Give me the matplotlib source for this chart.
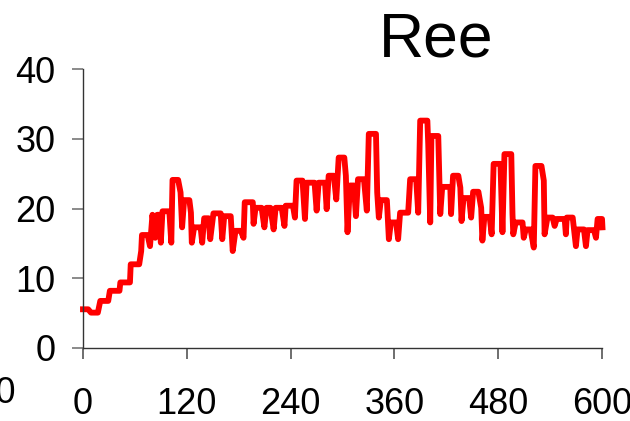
import matplotlib
matplotlib.use('Agg')
import matplotlib.pyplot as plt

plt.rcParams['font.family'] = ['Liberation Sans', 'DejaVu Sans']

# --- data ---
t = [0, 6.0, 9.3, 17.2, 20.0, 29.2, 31.1, 42.2, 43.2, 54.3,
     55.2, 65.0, 67.3, 68.2, 74.7, 77.5, 80.3, 83.5, 85.8, 88.2,
     90.0, 91.9, 99.8, 102.1, 103.5, 110.0, 112.8, 114.6, 116.9, 123.0,
     124.8, 125.8, 128.5, 136.0, 137.8, 140.1, 145.2, 147.1, 150.8, 159.2,
     161.0, 163.3, 170.8, 173.1, 176.3, 182.4, 185.6, 187.0, 196.3, 197.2,
     199.5, 206.5, 209.7, 212.1, 216.7, 220.4, 222.7, 229.7, 232.9, 234.3,
     242.7, 245.0, 246.9, 253.8, 256.6, 258.5, 267.7, 270.1, 272.4, 279.8,
     281.7, 284.0, 290.0, 292.8, 295.6, 302.1, 303.9, 305.8, 308.6, 313.2,
     315.5, 317.9, 324.8, 328.1, 330.4, 338.7, 340.1, 342.0, 344.3, 351.3,
     352.7, 353.6, 355.9, 361.9, 364.3, 366.6, 375.9, 378.2, 385.2, 387.5,
     389.8, 398.1, 399.1, 401.4, 402.8, 410.7, 413.0, 415.3, 424.6, 425.5,
     427.8, 433.9, 436.2, 437.6, 439.9, 446.4, 448.7, 451.0, 457.1, 460.3,
     461.7, 464.0, 470.1, 472.4, 474.7, 482.6, 484.9, 487.2, 495.1, 496.5,
     497.4, 500.2, 508.1, 509.5, 511.8, 517.4, 521.1, 523.0, 530.0, 532.7,
     533.6, 536.9, 542.9, 545.2, 547.6, 556.8, 558.2, 559.2, 566.1, 569.8,
     571.7, 579.1, 581.4, 583.3, 590.7, 593.0, 594.9, 600.0, 600.5]
ree = [5.55, 5.55, 5.07, 5.07, 6.75, 6.75, 8.2, 8.2, 9.4, 9.4,
       12.0, 12.0, 13.9, 16.2, 16.2, 14.6, 19.1, 15.8, 19.1, 19.1,
       15.1, 19.6, 19.6, 15.1, 24.1, 24.1, 22.3, 17.3, 21.2, 21.2,
       19.4, 15.1, 17.3, 17.3, 15.1, 18.6, 18.6, 15.6, 19.3, 19.3,
       15.6, 18.9, 18.9, 13.9, 16.8, 16.8, 15.8, 20.9, 20.9, 17.8,
       20.1, 20.1, 17.3, 20.1, 20.1, 17.0, 20.1, 20.1, 17.5, 20.4,
       20.4, 18.7, 24.0, 24.0, 18.5, 23.7, 23.7, 19.7, 23.7, 23.7,
       19.9, 24.7, 24.7, 21.3, 27.3, 27.3, 24.7, 16.6, 23.3, 23.3,
       18.9, 24.2, 24.2, 19.7, 30.7, 30.7, 22.3, 18.7, 21.2, 21.2,
       17.8, 15.6, 18.0, 18.0, 15.6, 19.4, 19.4, 24.2, 24.2, 19.4,
       32.6, 32.6, 29.2, 18.0, 30.4, 30.4, 19.2, 23.1, 23.1, 19.2,
       24.7, 24.7, 23.0, 18.2, 21.5, 21.5, 18.7, 22.4, 22.4, 20.1,
       15.4, 18.8, 18.8, 16.3, 26.4, 26.4, 16.6, 27.8, 27.8, 19.2,
       16.3, 18.0, 18.0, 15.8, 17.0, 17.0, 14.4, 26.1, 26.1, 24.0,
       16.3, 18.7, 18.7, 17.5, 18.5, 18.5, 16.3, 18.7, 18.7, 14.6,
       17.0, 17.0, 14.6, 16.9, 16.9, 15.8, 18.5, 18.5, 17.3]

x_ticks = [0, 120, 240, 360, 480, 600]
y_ticks = [0, 10, 20, 30, 40]

fig = plt.figure(figsize=(6.3, 4.21), dpi=100)
ax = fig.add_axes([0.1317, 0.1734, 0.8239, 0.6627])

ax.plot(t, ree, color='#ff0000', lw=4.2, solid_joinstyle='round', clip_on=False)

ax.set_xlim(0, 600)
ax.set_ylim(0, 40)
ax.set_xticks(x_ticks)
ax.set_yticks(y_ticks)
for s in ['top', 'right']:
    ax.spines[s].set_visible(False)
for s in ['left', 'bottom']:
    ax.spines[s].set_color('#333333')
    ax.spines[s].set_linewidth(1.0)
ax.tick_params(axis='x', direction='out', length=8, width=1.2, color='#555555',
               labelsize=26, pad=20)
ax.tick_params(axis='y', direction='out', length=8, width=1.2, color='#777777',
               labelsize=26, pad=12)

# leftmost label of the original is cut off by the figure edge
ax.text(-120, 0, '-120', transform=ax.get_xaxis_text1_transform(20)[0],
        ha='center', va='top', fontsize=26, clip_on=False)

fig.text(0.692, 0.865, 'Ree', ha='center', va='baseline', fontsize=45)

fig.savefig('out.png', dpi=100)
